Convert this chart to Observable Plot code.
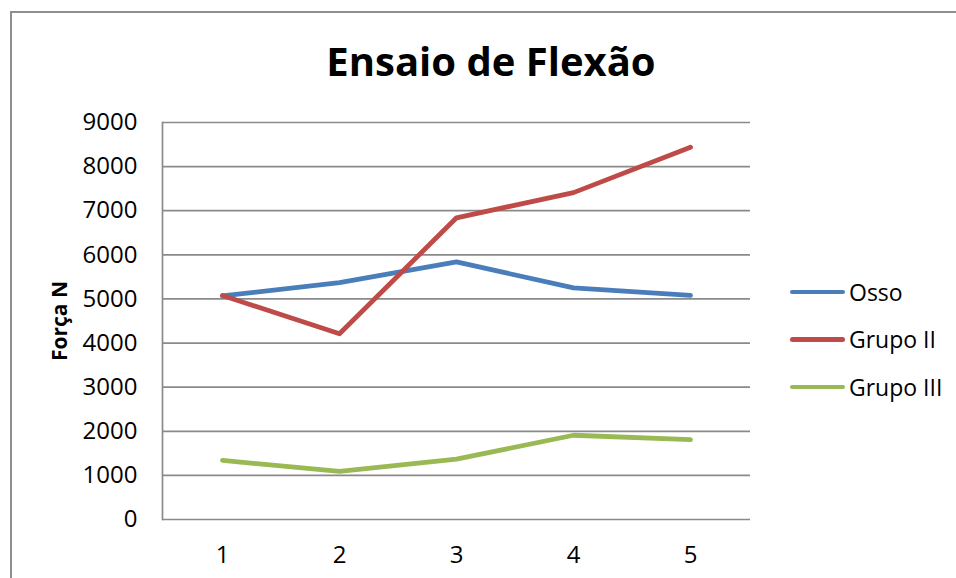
<!DOCTYPE html>
<html>
<head>
<meta charset="utf-8">
<script src="https://cdn.jsdelivr.net/npm/d3@7"></script>
<script src="https://cdn.jsdelivr.net/npm/@observablehq/plot@0.6"></script>
<style>
  html, body { margin: 0; padding: 0; background: #fff; }
  #wrap { position: relative; width: 956px; height: 578px; overflow: hidden; font-family: "Open Sans", sans-serif; }
  #frame { position: absolute; left: 10px; top: 11px; width: 960px; height: 600px; border-left: 2px solid #8e8e8e; border-top: 2px solid #8e8e8e; box-sizing: border-box; pointer-events: none; }
  #title { position: absolute; left: 491px; top: 41px; transform: translateX(-50%); font-size: 40px; font-weight: 700; line-height: 1; white-space: nowrap; color: #000; }
  #chart { position: absolute; left: 0; top: 0; }
  #legend { position: absolute; left: 790px; top: 268px; }
  .row { display: flex; align-items: center; height: 47.5px; }
  .sw { width: 55px; height: 4.5px; border-radius: 3px; margin-right: 4px; }
  .lab { font-size: 23px; color: #000; }
</style>
</head>
<body>
<div id="wrap">
  <div id="chart"></div>
  <div id="title">Ensaio de Flexão</div>
  <div id="legend"></div>
  <div id="frame"></div>
</div>
<script>
const categories = [1, 2, 3, 4, 5];
const seriesNames = ["Osso", "Grupo II", "Grupo III"];
const osso = [5070, 5370, 5840, 5250, 5080];
const grupoII = [5080, 4210, 6840, 7410, 8440];
const grupoIII = [1340, 1090, 1370, 1910, 1810];
const yTicks = [0, 1000, 2000, 3000, 4000, 5000, 6000, 7000, 8000, 9000];
const colors = ["#4a7ebb", "#be4b48", "#98b954"];

const allValues = [osso, grupoII, grupoIII];
const data = [];
seriesNames.forEach((s, i) => {
  categories.forEach((c, j) => data.push({series: s, x: c, y: allValues[i][j]}));
});

const chart = Plot.plot({
  width: 956,
  height: 578,
  marginLeft: 162,
  marginRight: 206,
  marginTop: 122,
  marginBottom: 59,
  style: {fontFamily: "Open Sans", fontSize: "22px", background: "transparent", color: "#000"},
  x: {type: "point", domain: categories, padding: 0.5},
  y: {domain: [0, 9000]},
  color: {domain: seriesNames, range: colors},
  marks: [
    Plot.ruleY(yTicks, {stroke: "#8a8a8a", strokeWidth: 1.7, strokeOpacity: 1}),
    Plot.frame({anchor: "left", stroke: "#8a8a8a", strokeWidth: 1.7}),
    Plot.axisY(yTicks, {tickSize: 0, tickPadding: 25, tickFormat: d => String(d), label: "Força N", labelAnchor: "center", labelArrow: false, labelOffset: 110, fontSize: 24}),
    Plot.axisX(categories, {tickSize: 0, tickPadding: 26, tickFormat: d => String(d), label: null, fontSize: 24}),
    Plot.line(data, {x: "x", y: "y", z: "series", stroke: "series", strokeWidth: 4.8, strokeLinecap: "round", strokeLinejoin: "round"})
  ]
});
chart.querySelectorAll("g[aria-label='y-axis label'] text").forEach(t => { t.style.fontWeight = "700"; t.style.fontSize = "21px"; });
document.getElementById("chart").appendChild(chart);

const legend = document.getElementById("legend");
seriesNames.forEach((s, i) => {
  const row = document.createElement("div");
  row.className = "row";
  const sw = document.createElement("div");
  sw.className = "sw";
  sw.style.background = colors[i];
  const lab = document.createElement("span");
  lab.className = "lab";
  lab.textContent = s;
  row.appendChild(sw);
  row.appendChild(lab);
  legend.appendChild(row);
});
</script>
</body>
</html>
